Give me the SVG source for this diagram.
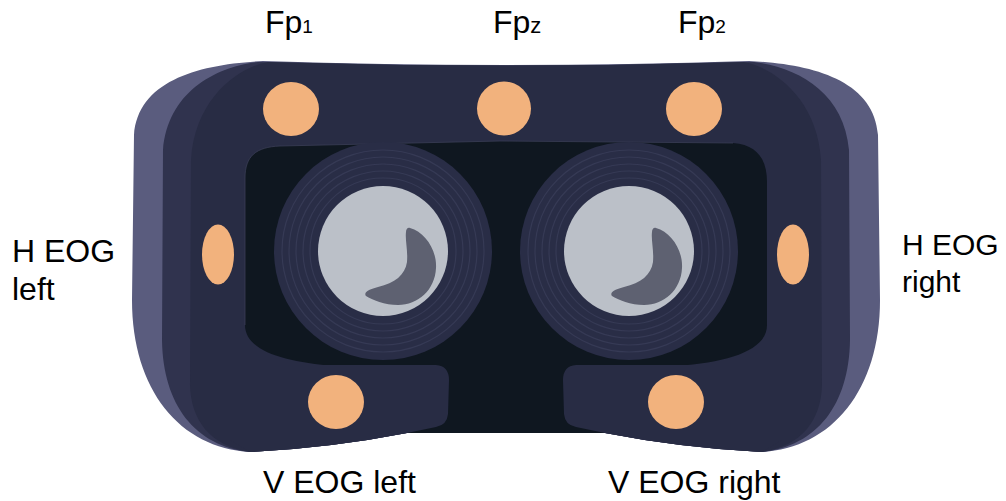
<svg xmlns="http://www.w3.org/2000/svg" width="1006" height="501" viewBox="0 0 1006 501">
  <style>
    .shell-outer { fill: #5a5c7e; }
    .shell-mid { fill: #30334e; }
    .shell-main { fill: #282c44; }
    .cavity { fill: #0f1720; }
    .cavity-rim { fill: none; stroke: #3a3e56; stroke-width: 0.8; }
    .pad { fill: #282c44; }
    .electrode { fill: #f2b27d; }
    .lens-body { fill: #292d46; }
    .lens-ring { fill: none; stroke: #363a55; stroke-width: 1.2; }
    .lens-glass { fill: #bbc0c8; }
    .lens-glint { fill: #5e6171; }
    .label { font-family: "Liberation Sans", Arial, sans-serif; fill: #000000; }
  </style>

  <defs>
    <g id="lens">
      <circle class="lens-body" cx="0" cy="0" r="109"/>
      <circle class="lens-ring" cx="0" cy="0" r="101"/>
      <circle class="lens-ring" cx="0" cy="0" r="94"/>
      <circle class="lens-ring" cx="0" cy="0" r="87"/>
      <circle class="lens-ring" cx="0" cy="0" r="80"/>
      <circle class="lens-ring" cx="0" cy="0" r="73"/>
      <circle class="lens-glass" cx="0" cy="0" r="65"/>
      <path class="lens-glint" d="M 27 -23 C 42 -19 54 -1 53 17 C 52 39 35 54 15 54 C 2 54 -11 49 -17 45 C -20 41 -13 38 -5 36 C 12 32 22 24 24 11 C 25 -1 22 -11 23 -19 C 23 -22 25 -24 27 -23 Z"/>
    </g>
  </defs>

  <!-- headset shell, three stacked layers -->
  <g id="shell">
    <path class="shell-outer" d="M 263 61 C 200 64 138 80 134 135 L 132 300 C 132 390 180 448 250 452 Q 330 448 407 433 L 605 433 Q 682 448 762 452 C 832 448 880 390 880 300 L 878 135 C 874 80 812 64 749 61 Q 506 69 263 61 Z"/>
    <path class="shell-mid" d="M 258 62 C 215 67 168 92 163 150 L 162 340 C 163 405 195 446 250 452 Q 330 448 407 433 L 605 433 Q 682 448 762 452 C 817 446 849 405 850 340 L 849 150 C 844 92 797 67 754 62 Q 506 69 258 62 Z"/>
    <path class="shell-main" d="M 268 62 C 240 67 195 97 191 160 L 190 385 C 191 420 210 446 250 452 Q 330 448 407 433 L 605 433 Q 682 448 762 452 C 802 446 821 420 822 385 L 821 160 C 817 97 772 67 744 62 Q 506 69 268 62 Z"/>
  </g>

  <!-- inner cavity with nose opening -->
  <g id="cavity">
    <path class="cavity" d="M 245 178 C 245 156 256 147 280 146 L 500 141 L 733 143 C 758 145 767 160 767 182 L 767 325 C 767 350 730 362 677 366 L 605 366 L 605 433 L 407 433 L 407 366 L 335 366 C 282 362 245 350 245 325 Z"/>
    <path class="cavity-rim" d="M 245 325 L 245 178 C 245 156 256 147 280 146 L 500 141 L 733 143"/>
  </g>

  <!-- cheek pads -->
  <g id="pad-left">
    <path class="pad" d="M 230 365 L 436 365 Q 449 366 449 380 L 448 414 Q 447 425 436 427 L 407 433 Q 330 448 250 452 L 230 440 Z"/>
  </g>
  <g id="pad-right">
    <path class="pad" d="M 782 365 L 576 365 Q 563 366 563 380 L 564 414 Q 565 425 576 427 L 605 433 Q 682 448 762 452 L 782 440 Z"/>
  </g>

  <!-- lenses -->
  <g id="lens-left">
    <use href="#lens" x="383" y="251"/>
  </g>
  <g id="lens-right">
    <use href="#lens" x="629" y="251"/>
  </g>

  <!-- electrodes -->
  <g id="fp1">
    <ellipse class="electrode" cx="291" cy="109" rx="28" ry="27"/>
    <text class="label" x="265" y="33" font-size="32">Fp<tspan font-size="19">1</tspan></text>
  </g>
  <g id="fpz">
    <ellipse class="electrode" cx="504" cy="108.5" rx="27" ry="27"/>
    <text class="label" x="493" y="33" font-size="32">Fp<tspan font-size="22">z</tspan></text>
  </g>
  <g id="fp2">
    <ellipse class="electrode" cx="694" cy="109" rx="28" ry="27"/>
    <text class="label" x="678" y="33" font-size="32">Fp<tspan font-size="19">2</tspan></text>
  </g>
  <g id="heog-left">
    <ellipse class="electrode" cx="218" cy="254.5" rx="16" ry="30"/>
    <text class="label" x="12" y="262" font-size="32">H EOG</text>
    <text class="label" x="12" y="300" font-size="32">left</text>
  </g>
  <g id="heog-right">
    <ellipse class="electrode" cx="793" cy="254.5" rx="16" ry="30"/>
    <text class="label" x="902" y="255" font-size="30">H EOG</text>
    <text class="label" x="902" y="292" font-size="30">right</text>
  </g>
  <g id="veog-left">
    <ellipse class="electrode" cx="336" cy="402" rx="28" ry="27"/>
    <text class="label" x="263" y="493" font-size="32">V EOG left</text>
  </g>
  <g id="veog-right">
    <ellipse class="electrode" cx="676" cy="402" rx="28" ry="27"/>
    <text class="label" x="608" y="493" font-size="32">V EOG right</text>
  </g>
</svg>
